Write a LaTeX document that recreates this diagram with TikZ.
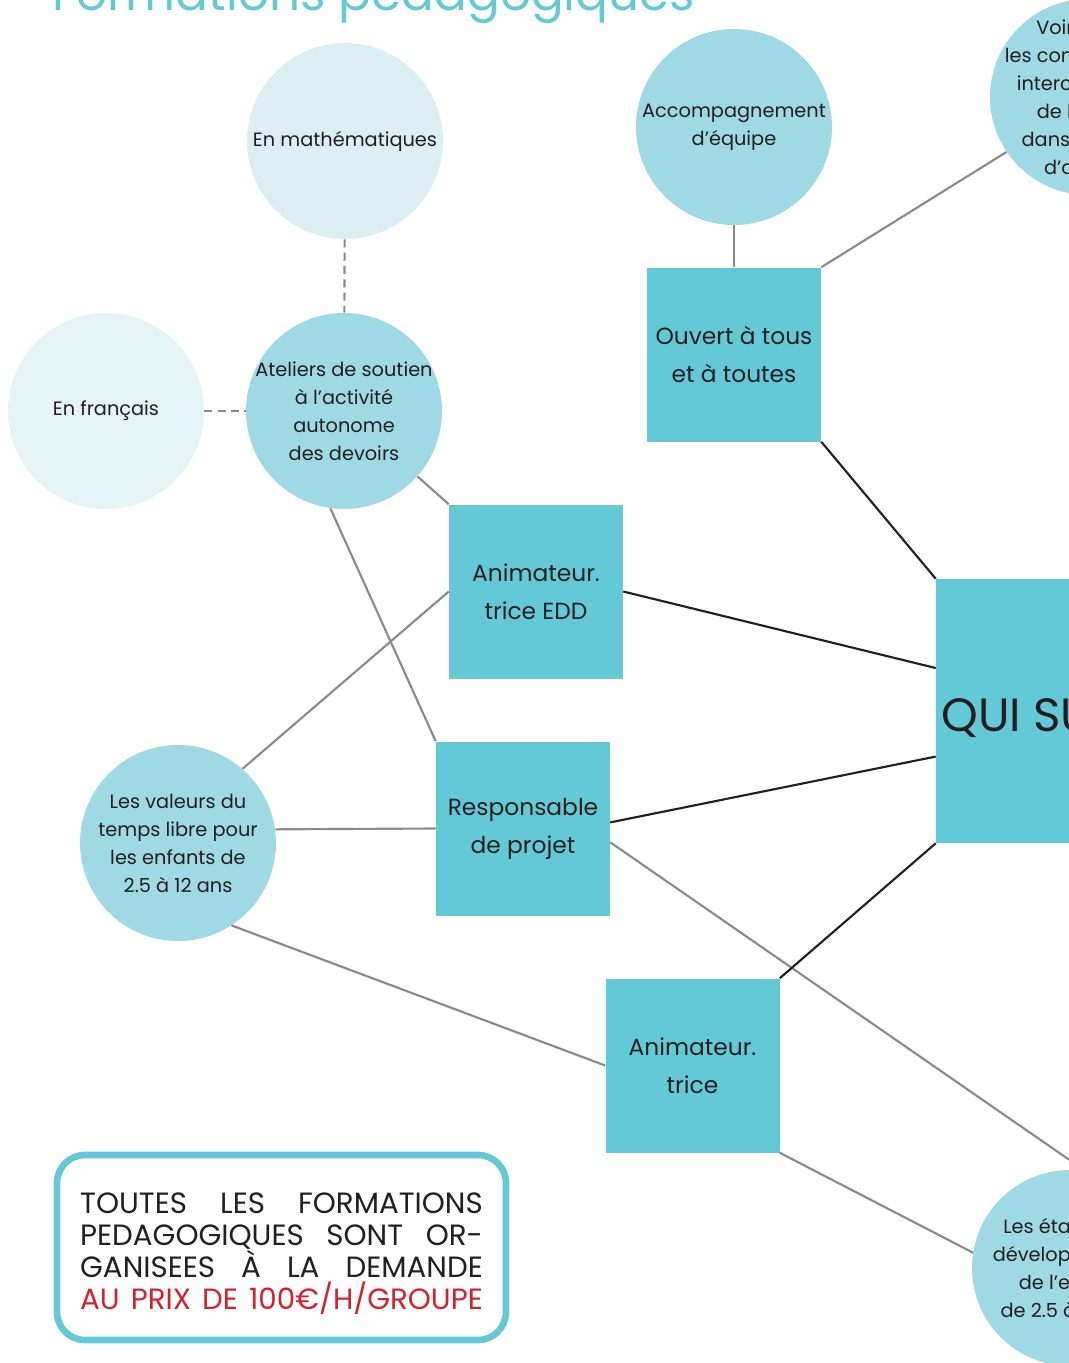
\documentclass[tikz,border=0pt]{standalone}
\usepackage{fontspec}
\setmainfont{Poppins}
\usetikzlibrary{calc}
\definecolor{turquoise}{RGB}{100,201,214}
\definecolor{bleuclair}{RGB}{159,217,227}
\definecolor{bleupale}{RGB}{219,239,242}
\definecolor{bleupale2}{RGB}{227,243,246}
\definecolor{gristrait}{RGB}{138,138,138}
\definecolor{noirtrait}{RGB}{35,31,32}
\definecolor{rouge}{RGB}{213,32,46}
\tikzset{
  bulle/.style={circle, fill=bleuclair, minimum size=147pt, inner sep=0pt},
  bulletxt/.style={align=center, font=\fontsize{14.5}{21}\selectfont, text=noirtrait},
  carre/.style={rectangle, fill=turquoise, minimum size=130.5pt, inner sep=0pt, align=center, font=\fontsize{17.5}{28.5}\selectfont, text=noirtrait},
  liengris/.style={draw=gristrait, line width=1.6pt},
  liennoir/.style={draw=noirtrait, line width=1.6pt},
  pointille/.style={liengris, dash pattern=on 6pt off 4pt},
  cadre/.style={rectangle, draw=turquoise, line width=5pt, rounded corners=21pt, fill=white, minimum width=336.75pt, minimum height=138.75pt},
  cadretxt/.style={align=center, yshift=-4.5pt, font=\fontsize{22}{24}\selectfont, text=noirtrait},
}

\begin{document}
\begin{tikzpicture}[x=0.75pt, y=-0.75pt]
		%%%%% START %%%%%
		\useasboundingbox (0,0) rectangle (1069,1363);
		\clip (0,0) rectangle (1069,1363);
		
		\node[anchor=base west, inner sep=0pt, text=turquoise, font=\fontsize{36.4}{40}\selectfont] (titre) at (52,11) {Formations pédagogiques};
		
		% bulles
		\node[bulle, fill=bleupale, label={[bulletxt]center:En mathématiques}] (maths) at (345,141) {};
		\node[bulle, fill=bleupale2, label={[bulletxt]center:En français}] (francais) at (106,411) {};
		\node[bulle, label={[bulletxt]center:Ateliers de soutien\\à l’activité\\autonome\\des devoirs}] (ateliers) at (344,411) {};
		\node[bulle, label={[bulletxt]center:Accompagnement\\d’équipe}] (accomp) at (734,127) {};
		\node[bulle, label={[bulletxt]center:Voir toutes\\les compétences\\interculturelles\\de l’enfant\\dans le cadre\\d’accueil}] (voir) at (1088,97) {};
		\node[bulle, label={[bulletxt]center:Les valeurs du\\temps libre pour\\les enfants de\\2.5 à 12 ans}] (valeurs) at (178,843) {};
		\node[bulle, label={[bulletxt]center:Les étapes du\\développement\\de l’enfant\\de 2.5 à 12 ans}] (etapes) at (1070,1268) {};
		
		% carres
		\node[carre] (ouvert) at (734,354.5) {Ouvert à tous\\et à toutes};
		\node[carre] (edd) at (536,591.5) {Animateur.\\trice EDD};
		\node[carre] (resp) at (523,828.5) {Responsable\\de projet};
		\node[carre] (anim) at (692.5,1065.5) {Animateur.\\trice};
		\node[carre, minimum size=198pt] (qui) at (1068,711) {};
		\node[anchor=base west, inner sep=0pt, text=noirtrait, font=\fontsize{35}{38}\selectfont] (quitxt) at (941,731) {QUI SUIS-JE ?};
		
		% liens
		\draw[pointille] (maths) -- (ateliers);
		\draw[pointille] (francais) -- (ateliers);
		\draw[liengris] (accomp) -- (ouvert);
		\draw[liengris] (ouvert.north east) -- (voir.214);
		\draw[liengris] (ateliers) -- (edd.north west);
		\draw[liengris] (ateliers.-98) -- (resp.north west);
		\draw[liengris] (valeurs.49) -- (edd.west);
		\draw[liengris] (valeurs.8) -- (resp.west);
		\draw[liengris] (valeurs.-57) -- (anim.west);
		\draw[liengris] (resp.-9.5) -- (etapes.81);
		\draw[liengris] (anim.south east) -- (etapes.171);
		
		\draw[liennoir] (ouvert.south east) -- (qui.north west);
		\draw[liennoir] (edd.east) -- (qui.162);
		\draw[liennoir] (resp.4) -- (qui.199);
		\draw[liennoir] (anim.north east) -- (qui.south west);
		
		\node[cadre, label={[cadretxt]center:\makebox[302pt][s]{TOUTES LES FORMATIONS}\\\makebox[302pt][s]{PEDAGOGIQUES SONT OR-}\\\makebox[302pt][s]{GANISEES À LA DEMANDE}\\\textcolor{rouge}{\makebox[302pt][s]{AU PRIX DE 100€/H/GROUPE}}}] (tarif) at (281.5,1247.5) {};
		
		%%%%% END %%%%%
\end{tikzpicture}
\end{document}
